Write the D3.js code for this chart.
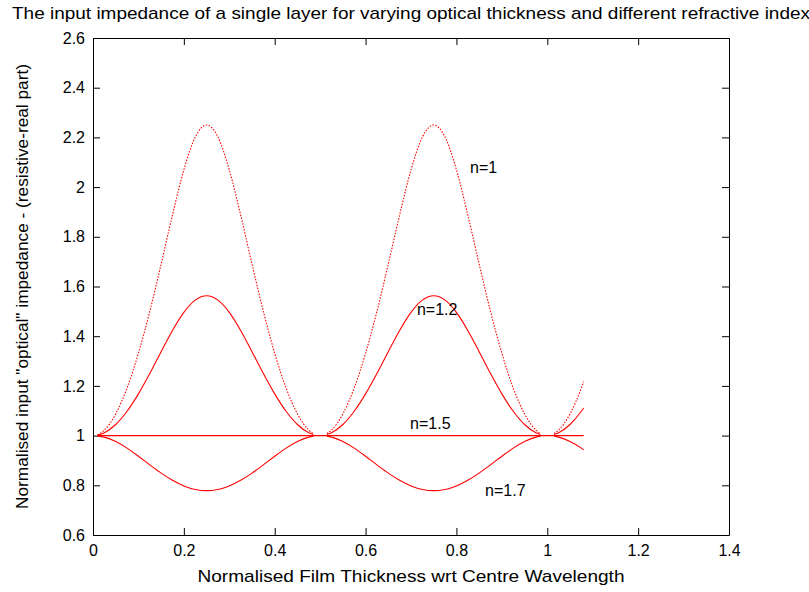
<!DOCTYPE html>
<html>
<head>
<meta charset="utf-8">
<script src="https://cdn.jsdelivr.net/npm/d3@7"></script>
<style>
  html, body { margin: 0; padding: 0; background: #fff; }
  svg { display: block; }
  text { font-family: "Liberation Sans", Arial, sans-serif; fill: #000; }
</style>
</head>
<body>
<div id="chart"></div>
<script>
// ---------------- data ----------------
const titleText = "The input impedance of a single layer for varying optical thickness and different refractive index";
const xLabelText = "Normalised Film Thickness wrt Centre Wavelength";
const yLabelText = "Normalised input \"optical\" impedance - (resistive-real part)";

const xTicks = [0, 0.2, 0.4, 0.6, 0.8, 1, 1.2, 1.4];
const yTicks = [0.6, 0.8, 1, 1.2, 1.4, 1.6, 1.8, 2, 2.2, 2.4, 2.6];

// film thickness samples (null = break between plotted segments)
const thickness = [
  0.01, 0.025, 0.05, 0.075, 0.1, 0.125, 0.15, 0.175, 0.2, 0.225, 0.25,
  0.275, 0.3, 0.325, 0.35, 0.375, 0.4, 0.425, 0.45, 0.475, 0.485,
  null,
  0.515, 0.525, 0.55, 0.575, 0.6, 0.625, 0.65, 0.675, 0.7, 0.725, 0.75,
  0.775, 0.8, 0.825, 0.85, 0.875, 0.9, 0.925, 0.95, 0.975, 0.985,
  null,
  1.015, 1.025, 1.05, 1.075, 1.08
];

const n10 = [
  1.0036, 1.0222, 1.0872, 1.1917, 1.3312, 1.5, 1.6903, 1.888, 2.0695, 2.2012, 2.25,
  2.2012, 2.0695, 1.888, 1.6903, 1.5, 1.3312, 1.1917, 1.0872, 1.0222, 1.008,
  null,
  1.008, 1.0222, 1.0872, 1.1917, 1.3312, 1.5, 1.6903, 1.888, 2.0695, 2.2012, 2.25,
  2.2012, 2.0695, 1.888, 1.6903, 1.5, 1.3312, 1.1917, 1.0872, 1.0222, 1.008,
  null,
  1.008, 1.0222, 1.0872, 1.1917, 1.217
];

const n12 = [
  1.0018, 1.0113, 1.0446, 1.0979, 1.1679, 1.25, 1.3379, 1.4232, 1.4958, 1.545, 1.5625,
  1.545, 1.4958, 1.4232, 1.3379, 1.25, 1.1679, 1.0979, 1.0446, 1.0113, 1.0041,
  null,
  1.0041, 1.0113, 1.0446, 1.0979, 1.1679, 1.25, 1.3379, 1.4232, 1.4958, 1.545, 1.5625,
  1.545, 1.4958, 1.4232, 1.3379, 1.25, 1.1679, 1.0979, 1.0446, 1.0113, 1.0041,
  null,
  1.0041, 1.0113, 1.0446, 1.0979, 1.1107
];

const n17 = [
  0.999, 0.9938, 0.9762, 0.9495, 0.917, 0.8824, 0.849, 0.82, 0.7975, 0.7834, 0.7785,
  0.7834, 0.7975, 0.82, 0.849, 0.8824, 0.917, 0.9495, 0.9762, 0.9938, 0.9978,
  null,
  0.9978, 0.9938, 0.9762, 0.9495, 0.917, 0.8824, 0.849, 0.82, 0.7975, 0.7834, 0.7785,
  0.7834, 0.7975, 0.82, 0.849, 0.8824, 0.917, 0.9495, 0.9762, 0.9938, 0.9978,
  null,
  0.9978, 0.9938, 0.9762, 0.9495, 0.9433
];

const n15Thickness = [0.01, 0.5, 1, 1.08];
const n15 = [1, 1, 1, 1];

const labelText = ["n=1", "n=1.2", "n=1.5", "n=1.7"];
const labelX = [0.83, 0.713, 0.698, 0.863];
const labelY = [2.08, 1.507, 1.05, 0.78];

// ---------------- layout ----------------
const W = 809, H = 592;
const margin = { left: 93, right: 80, top: 38, bottom: 57 };

const svg = d3.select("#chart").append("svg")
  .attr("width", W).attr("height", H)
  .attr("viewBox", `0 0 ${W} ${H}`);
svg.append("rect").attr("width", W).attr("height", H).attr("fill", "#fff");

const x = d3.scaleLinear().domain([0, 1.4]).range([margin.left, W - margin.right]);
const y = d3.scaleLinear().domain([0.6, 2.6]).range([H - margin.bottom, margin.top]);

const fmt = v => String(+v.toFixed(1));
const tickLen = 7;

// axes (MATLAB-like box with inward ticks on all sides)
const gBottom = svg.append("g").attr("transform", `translate(0,${y(0.6)})`)
  .call(d3.axisBottom(x).tickValues(xTicks).tickFormat(fmt).tickSizeInner(-tickLen).tickSizeOuter(0).tickPadding(10));
const gTop = svg.append("g").attr("transform", `translate(0,${y(2.6)})`)
  .call(d3.axisTop(x).tickValues(xTicks).tickFormat("").tickSizeInner(-tickLen).tickSizeOuter(0));
const gLeft = svg.append("g").attr("transform", `translate(${x(0)},0)`)
  .call(d3.axisLeft(y).tickValues(yTicks).tickFormat(fmt).tickSizeInner(-tickLen).tickSizeOuter(0).tickPadding(8));
const gRight = svg.append("g").attr("transform", `translate(${x(1.4)},0)`)
  .call(d3.axisRight(y).tickValues(yTicks).tickFormat("").tickSizeInner(-tickLen).tickSizeOuter(0));

[gBottom, gTop, gLeft, gRight].forEach(g => {
  g.selectAll("path.domain").attr("stroke", "#000").attr("stroke-width", 1);
  g.selectAll(".tick line").attr("stroke", "#000").attr("stroke-width", 1);
  g.selectAll(".tick text").attr("font-size", 16).attr("fill", "#000")
    .attr("font-family", "'Liberation Sans', Arial, sans-serif");
});

// curves
const line = d3.line()
  .defined(d => d[0] != null && d[1] != null)
  .x(d => x(d[0])).y(d => y(d[1]))
  .curve(d3.curveMonotoneX);

const series = [
  { vals: n10, xs: thickness, dash: "1.5,1.5" },
  { vals: n12, xs: thickness, dash: null },
  { vals: n15, xs: n15Thickness, dash: null },
  { vals: n17, xs: thickness, dash: null }
];

series.forEach(s => {
  const pts = s.xs.map((t, i) => [t, s.vals[i]]);
  svg.append("path")
    .attr("d", line(pts))
    .attr("fill", "none")
    .attr("stroke", "#ff0000")
    .attr("stroke-width", 1.1)
    .attr("stroke-dasharray", s.dash);
});

// labels on curves
labelText.forEach((t, i) => {
  svg.append("text")
    .attr("x", x(labelX[i])).attr("y", y(labelY[i]))
    .attr("dy", "0.35em")
    .attr("font-size", 16)
    .text(t);
});

// title and axis labels
svg.append("text")
  .attr("x", (x(0) + x(1.4)) / 2).attr("y", 19)
  .attr("text-anchor", "middle").attr("font-size", 17)
  .attr("textLength", 798).attr("lengthAdjust", "spacingAndGlyphs")
  .text(titleText);

svg.append("text")
  .attr("x", (x(0) + x(1.4)) / 2).attr("y", 582)
  .attr("text-anchor", "middle").attr("font-size", 17)
  .attr("textLength", 427).attr("lengthAdjust", "spacingAndGlyphs")
  .text(xLabelText);

svg.append("text")
  .attr("transform", `translate(28,${(y(0.6) + y(2.6)) / 2}) rotate(-90)`)
  .attr("text-anchor", "middle").attr("font-size", 17)
  .attr("textLength", 445).attr("lengthAdjust", "spacingAndGlyphs")
  .text(yLabelText);
</script>
</body>
</html>
